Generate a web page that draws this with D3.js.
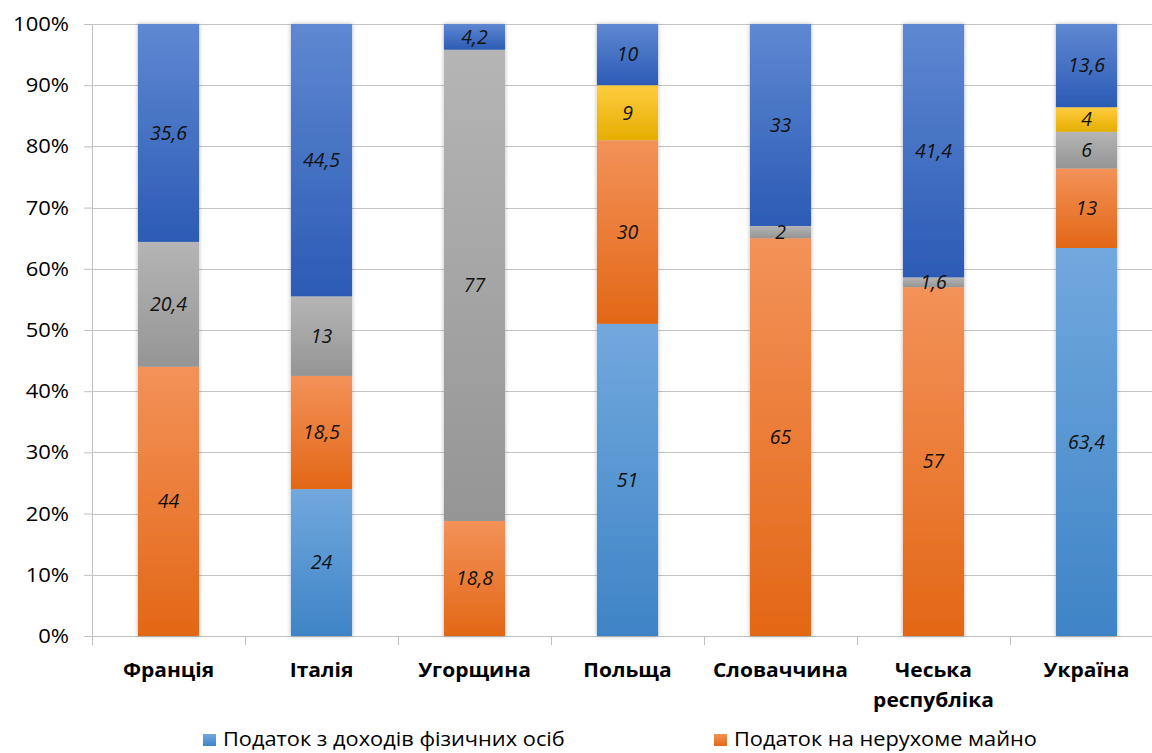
<!DOCTYPE html>
<html>
<head>
<meta charset="utf-8">
<script src="https://cdn.jsdelivr.net/npm/d3@7/dist/d3.min.js"></script>
<style>
  html, body { margin: 0; padding: 0; background: #fff; }
  svg { display: block; }
</style>
</head>
<body>
<svg id="chart" width="1152" height="753"></svg>
<script>
// Tax structure of local budgets, share of each tax in percent
const categories = ["Франція", "Італія", "Угорщина", "Польща", "Словаччина", "Чеська\nреспубліка", "Україна"];
const incomeTax   = [0,    24,   0,    51, 0,  0,    63.4];
const propertyTax = [44,   18.5, 18.8, 30, 65, 57,   13];
const greyShare   = [20.4, 13,   77,   0,  2,  1.6,  6];
const yellowShare = [0,    0,    0,    9,  0,  0,    4];
const blueShare   = [35.6, 44.5, 4.2,  10, 33, 41.4, 13.6];
const yTicks = [0, 0.1, 0.2, 0.3, 0.4, 0.5, 0.6, 0.7, 0.8, 0.9, 1];
const legendNames = ["Податок з доходів фізичних осіб", "Податок на нерухоме майно"];

const seriesKeys = ["income", "property", "grey", "yellow", "blue"];
const seriesValues = [incomeTax, propertyTax, greyShare, yellowShare, blueShare];
const gradients = {
  income:   ["#72A8DE", "#3E84C6"],
  property: ["#F39259", "#E36716"],
  grey:     ["#B5B5B5", "#959595"],
  yellow:   ["#FFCC40", "#E5AE00"],
  blue:     ["#5F88D2", "#2C5BB5"]
};

const rows = categories.map((c, i) => {
  const r = { category: c };
  seriesKeys.forEach((k, j) => { r[k] = seriesValues[j][i]; });
  return r;
});

const FONT = "'Open Sans', sans-serif";
const svg = d3.select("#chart");
const plotLeft = 92, plotTop = 24, plotBottom = 636;
const x = d3.scaleBand().domain(categories).range([plotLeft, plotLeft + 153 * 7])
  .paddingInner(0.6).paddingOuter(0.3);
const y = d3.scaleLinear().domain([0, 1]).range([plotBottom, plotTop]);

const defs = svg.append("defs");
seriesKeys.forEach(k => {
  const g = defs.append("linearGradient").attr("id", "grad-" + k)
    .attr("x1", 0).attr("y1", 0).attr("x2", 0).attr("y2", 1);
  g.append("stop").attr("offset", "0%").attr("stop-color", gradients[k][0]);
  g.append("stop").attr("offset", "100%").attr("stop-color", gradients[k][1]);
});
const shadow = defs.append("filter").attr("id", "barShadow")
  .attr("x", "-20%").attr("y", "-5%").attr("width", "140%").attr("height", "110%");
shadow.append("feDropShadow").attr("dx", 0).attr("dy", 0)
  .attr("stdDeviation", 2).attr("flood-color", "#000").attr("flood-opacity", 0.28);

// gridlines + y axis
const yAxis = d3.axisLeft(y).tickValues(yTicks).tickFormat(d3.format(".0%"))
  .tickSize(8).tickPadding(15);
const yg = svg.append("g").attr("transform", `translate(${plotLeft},0)`).call(yAxis);
yg.select(".domain").attr("stroke", "#BFBFBF");
yg.selectAll(".tick line").attr("stroke", "#BFBFBF");
yg.selectAll(".tick text").attr("font-family", FONT)
  .attr("font-size", 20).attr("fill", "#000")
  .attr("transform", "scale(1.1,1)")
  .attr("x", -23 / 1.1);

svg.append("g").selectAll("line").data(yTicks.filter(d => d > 0)).join("line")
  .attr("x1", plotLeft).attr("x2", 1152)
  .attr("y1", d => Math.round(y(d)) + 0.5).attr("y2", d => Math.round(y(d)) + 0.5)
  .attr("stroke", "#C4C4C4").attr("stroke-width", 1);

// x axis with boundary ticks
const xg = svg.append("g").attr("transform", `translate(0,${plotBottom})`);
xg.append("line").attr("x1", plotLeft).attr("x2", 1152).attr("y1", 0.5).attr("y2", 0.5)
  .attr("stroke", "#BFBFBF");
xg.selectAll("line.bt").data(categories).join("line").attr("class", "bt")
  .attr("x1", d => x(d) - x.step() * 0.3 + 0.5).attr("x2", d => x(d) - x.step() * 0.3 + 0.5)
  .attr("y1", 0).attr("y2", 9).attr("stroke", "#BFBFBF");

// stacked columns (100%)
const stack = d3.stack().keys(seriesKeys);
const stacked = stack(rows);
const cols = svg.append("g");
rows.forEach((row, i) => {
  const colG = cols.append("g").attr("filter", "url(#barShadow)");
  stacked.forEach(s => {
    const d = s[i];
    if (d[1] - d[0] <= 0) return;
    colG.append("rect")
      .attr("x", x(row.category)).attr("width", x.bandwidth())
      .attr("y", y(d[1] / 100)).attr("height", y(d[0] / 100) - y(d[1] / 100))
      .attr("fill", `url(#grad-${s.key})`);
  });
});

// value labels
const labels = svg.append("g");
stacked.forEach(s => {
  s.forEach((d, i) => {
    const v = d[1] - d[0];
    if (v <= 0) return;
    const val = rows[i][s.key];
    labels.append("text")
      .attr("x", x(rows[i].category) + x.bandwidth() / 2)
      .attr("y", y((d[0] + d[1]) / 200))
      .attr("dy", "0.35em").attr("text-anchor", "middle")
      .attr("font-family", FONT).attr("font-style", "italic")
      .attr("font-size", 19.5).attr("fill", "#111")
      .text(String(val).replace(".", ","));
  });
});

// category labels
const catG = svg.append("g");
categories.forEach(c => {
  const cx = x(c) + x.bandwidth() / 2;
  const t = catG.append("text").attr("y", 677)
    .attr("text-anchor", "middle").attr("font-family", FONT)
    .attr("font-weight", "bold").attr("font-size", 20).attr("fill", "#000")
    .attr("transform", `translate(${cx},0) scale(1.05,1)`);
  c.split("\n").forEach((line, k) => {
    t.append("tspan").attr("x", 0).attr("dy", k === 0 ? 0 : 30).text(line);
  });
});

// legend
const legendColors = ["income", "property"];
const legendX = [203, 714];
legendNames.forEach((name, i) => {
  const g = svg.append("g").attr("transform", `translate(${legendX[i]},734)`);
  g.append("rect").attr("width", 13).attr("height", 12)
    .attr("fill", `url(#grad-${legendColors[i]})`);
  g.append("text").attr("y", 12)
    .attr("font-family", FONT).attr("font-size", 20).attr("fill", "#000")
    .attr("transform", "scale(1.09,1)").attr("x", 20 / 1.09)
    .text(name);
});
</script>
</body>
</html>
